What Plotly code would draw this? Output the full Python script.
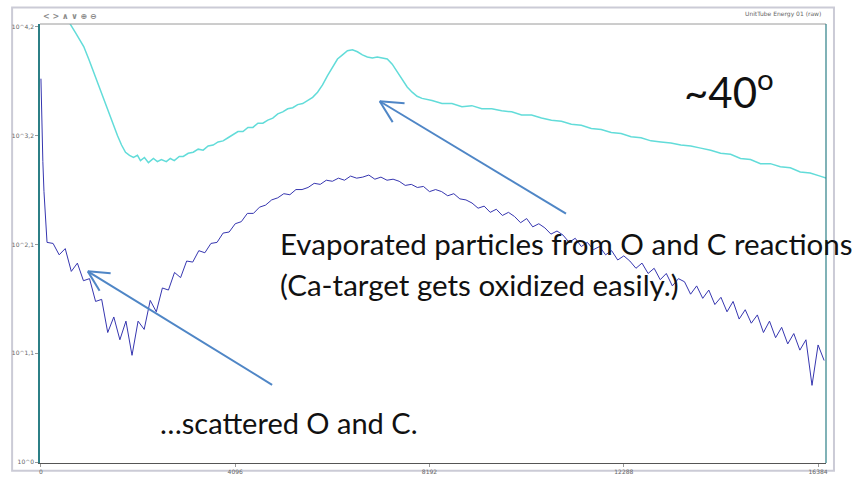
import math
import plotly.graph_objects as go

# ---------------- data (channel, log10 counts) ----------------
cyan_channels = [0, 273, 441, 587, 734, 902, 1007, 1112, 1217, 1322, 1427, 1532, 1615, 1699, 1783, 1867,
                 1951, 2035, 2098, 2182, 2266, 2371, 2455, 2539, 2643, 2727, 2811, 2916, 3000, 3105, 3210,
                 3315, 3420, 3525, 3630, 3734, 3839, 3944, 4049, 4154, 4259, 4364, 4469, 4574, 4679, 4783,
                 4888, 4993, 5098, 5203, 5308, 5413, 5518, 5623, 5728, 5832, 5937, 6042, 6147, 6252, 6357,
                 6462, 6567, 6672, 6777, 6881, 6986, 7091, 7196, 7301, 7406, 7511, 7616, 7721, 7826, 7930,
                 8035, 8245, 8455, 8665, 8875, 9084, 9294, 9504, 9714, 9924, 10133, 10343, 10553, 10763,
                 10973, 11182, 11392, 11602, 11812, 12022, 12231, 12441, 12651, 12861, 13071, 13280, 13490,
                 13700, 13910, 14120, 14329, 14539, 14749, 14959, 15169, 15378, 15588, 15798, 16008, 16218,
                 16427, 16553]
cyan_log10 = [4.59, 4.42, 4.34, 4.25, 4.14, 4.01, 3.89, 3.76, 3.64, 3.51, 3.39, 3.25, 3.15, 3.06, 2.99, 2.96,
              2.94, 2.96, 2.91, 2.94, 2.89, 2.93, 2.90, 2.92, 2.90, 2.93, 2.91, 2.95, 2.95, 2.98, 2.99,
              3.02, 3.01, 3.05, 3.06, 3.09, 3.10, 3.13, 3.16, 3.19, 3.19, 3.23, 3.23, 3.27, 3.27, 3.30,
              3.32, 3.36, 3.38, 3.41, 3.42, 3.45, 3.46, 3.49, 3.52, 3.57, 3.64, 3.73, 3.81, 3.89, 3.93,
              3.97, 3.98, 3.96, 3.93, 3.91, 3.90, 3.91, 3.90, 3.89, 3.84, 3.77, 3.70, 3.62, 3.57, 3.53,
              3.51, 3.49, 3.46, 3.46, 3.43, 3.44, 3.41, 3.41, 3.39, 3.38, 3.35, 3.35, 3.32, 3.30, 3.29,
              3.26, 3.25, 3.22, 3.21, 3.18, 3.17, 3.14, 3.13, 3.10, 3.09, 3.08, 3.06, 3.05, 3.03, 3.01,
              2.98, 2.97, 2.93, 2.92, 2.88, 2.88, 2.85, 2.84, 2.80, 2.79, 2.76, 2.74, 2.72, 2.69]

blue_channels = [0, 16, 40, 64, 96,
                 128, 256, 384, 512, 640, 768, 896, 1024, 1152, 1280, 1408, 1536, 1664, 1792, 1920, 2048,
                 2176, 2304, 2432, 2560, 2688, 2816, 2944, 3072, 3200, 3328, 3456, 3584, 3712, 3840, 3968,
                 4096, 4224, 4352, 4480, 4608, 4736, 4864, 4992, 5120, 5248, 5376, 5504, 5632, 5760, 5888,
                 6016, 6144, 6272, 6400, 6528, 6656, 6784, 6912, 7040, 7168, 7296, 7424, 7552, 7680, 7808,
                 7936, 8064, 8192, 8320, 8448, 8576, 8704, 8832, 8960, 9088, 9216, 9344, 9472, 9600, 9728,
                 9856, 9984, 10112, 10240, 10368, 10496, 10624, 10752, 10880, 11008, 11136, 11264, 11392,
                 11520, 11648, 11776, 11904, 12032, 12160, 12288, 12416, 12544, 12672, 12800, 12928, 13056,
                 13184, 13312, 13440, 13568, 13696, 13824, 13952, 14080, 14208, 14336, 14464, 14592, 14720,
                 14848, 14976, 15104, 15232, 15360, 15488, 15616, 15744, 15872, 16000, 16128, 16256, 16384,
                 16512]
blue_log10 = [3.70, 3.23, 2.90, 2.61, 2.33,
              2.12, 2.11, 2.00, 2.06, 1.84, 1.92, 1.75, 1.77, 1.55, 1.57, 1.25, 1.40, 1.18, 1.36, 1.03,
              1.36, 1.28, 1.56, 1.45, 1.68, 1.66, 1.83, 1.78, 1.94, 1.93, 2.04, 2.02, 2.11, 2.12, 2.21,
              2.22, 2.30, 2.32, 2.40, 2.40, 2.46, 2.48, 2.53, 2.55,
              2.59, 2.58, 2.63, 2.63, 2.65, 2.69, 2.68, 2.72, 2.71, 2.74, 2.72, 2.76, 2.74, 2.75, 2.77,
              2.73, 2.75, 2.72, 2.73, 2.71, 2.67, 2.68, 2.65, 2.66, 2.61, 2.63, 2.61, 2.57, 2.59, 2.54,
              2.53, 2.50, 2.45, 2.47, 2.41, 2.44, 2.38, 2.41, 2.37, 2.31, 2.35, 2.27, 2.30, 2.26, 2.20,
              2.23, 2.19, 2.12, 2.16, 2.08, 2.12, 2.05, 2.08, 2.00, 2.04, 1.95, 1.99, 1.94, 1.87, 1.92,
              1.82, 1.87, 1.76, 1.82, 1.70, 1.77, 1.74, 1.62, 1.70, 1.58, 1.66, 1.52, 1.59, 1.45, 1.55,
              1.38, 1.47, 1.34, 1.42, 1.25, 1.36, 1.20, 1.30, 1.14, 1.24, 1.08, 1.18, 0.74, 1.13, 0.98]

x_tick_vals = [0, 4096, 8192, 12288, 16384]
y_tick_exps = [0, 1.05, 2.1, 3.15, 4.2]
y_tick_text = ["10^0", "10^1,1", "10^2,1", "10^3,2", "10^4,2"]

# ---------------- layout geometry (pixels) ----------------
W, H = 854, 487
L, R, T, B = 37, 826, 24, 473


def fx(px):
    return (px - L) / (R - L)


def fy(py):
    return (B - py) / (B - T)


fig = go.Figure()
fig.add_trace(go.Scatter(x=cyan_channels, y=[10 ** v for v in cyan_log10], mode="lines",
                         line=dict(color="#62dcd9", width=1.5), hoverinfo="skip", showlegend=False))
fig.add_trace(go.Scatter(x=blue_channels, y=[10 ** v for v in blue_log10], mode="lines",
                         line=dict(color="#3636b0", width=1), hoverinfo="skip", showlegend=False))

shapes = []
# outer window frame
shapes.append(dict(type="rect", xref="paper", yref="paper", x0=fx(9), x1=fx(834), y0=fy(481), y1=fy(7),
                   line=dict(color="#cbcbd6", width=2), layer="below"))
# top border of plot
shapes.append(dict(type="line", xref="paper", yref="paper", x0=0, x1=1, y0=1, y1=1,
                   line=dict(color="#9a9a9a", width=1)))
# right border of plot
shapes.append(dict(type="line", xref="paper", yref="paper", x0=1, x1=1, y0=0, y1=1,
                   line=dict(color="#2c7f86", width=1.2)))

arrow_color = "#4f86c6"


def add_arrow(tail, head, length=25, half_angle=27):
    shapes.append(dict(type="line", xref="paper", yref="paper",
                       x0=fx(tail[0]), y0=fy(tail[1]), x1=fx(head[0]), y1=fy(head[1]),
                       line=dict(color=arrow_color, width=2)))
    ang = math.atan2(tail[1] - head[1], tail[0] - head[0])
    for s in (-1, 1):
        a = ang + s * math.radians(half_angle)
        ex = head[0] + length * math.cos(a)
        ey = head[1] + length * math.sin(a)
        shapes.append(dict(type="line", xref="paper", yref="paper",
                           x0=fx(head[0]), y0=fy(head[1]), x1=fx(ex), y1=fy(ey),
                           line=dict(color=arrow_color, width=2)))


add_arrow((565, 218), (378, 103))
add_arrow((270, 393), (85, 277), length=23)

text_font = dict(family="Lato, Open Sans, sans-serif", color="#111111")
annotations = [
    dict(text="~40<sup>o</sup>", x=fx(681), y=fy(90), xanchor="left", yanchor="middle",
         font=dict(size=42, **text_font)),
    dict(text="Evaporated particles from O and C reactions", x=fx(276), y=fy(248), xanchor="left",
         yanchor="middle", font=dict(size=29.5, **text_font)),
    dict(text="(Ca-target gets oxidized easily.)", x=fx(276), y=fy(290), xanchor="left",
         yanchor="middle", font=dict(size=29.5, **text_font)),
    dict(text="…scattered O and C.", x=fx(155), y=fy(432), xanchor="left",
         yanchor="middle", font=dict(size=29, **text_font)),
    dict(text="UnitTube Energy 01 (raw)", x=fx(823), y=fy(14), xanchor="right", yanchor="middle",
         font=dict(size=6, family="DejaVu Sans", color="#666666")),
    dict(text="<b>&lt; &gt; ∧ ∨ ⊕ ⊖</b>", x=fx(38), y=fy(16), xanchor="left", yanchor="middle",
         font=dict(size=8, family="DejaVu Sans", color="#8a8a8a")),
]
for a in annotations:
    a.update(xref="paper", yref="paper", showarrow=False)

fig.update_layout(
    width=W, height=H,
    margin=dict(l=L, r=W - R, t=T, b=H - B, pad=0),
    paper_bgcolor="white", plot_bgcolor="white",
    shapes=shapes, annotations=annotations,
    showlegend=False,
    xaxis=dict(range=[-20, 16551], showgrid=False, zeroline=False, showline=True,
               linecolor="#555555", linewidth=1, ticks="outside", ticklen=3, tickcolor="#999999",
               tickvals=x_tick_vals, ticktext=[str(v) for v in x_tick_vals],
               tickfont=dict(size=6, family="DejaVu Sans", color="#666666")),
    yaxis=dict(type="log", range=[-0.0094, 4.228], showgrid=False, zeroline=False, showline=True,
               linecolor="#2c7f86", linewidth=1.5, ticks="outside", ticklen=3, tickcolor="#999999",
               tickvals=[10 ** e for e in y_tick_exps], ticktext=y_tick_text,
               tickfont=dict(size=6, family="DejaVu Sans", color="#666666")),
)

fig.write_html("out.html")
